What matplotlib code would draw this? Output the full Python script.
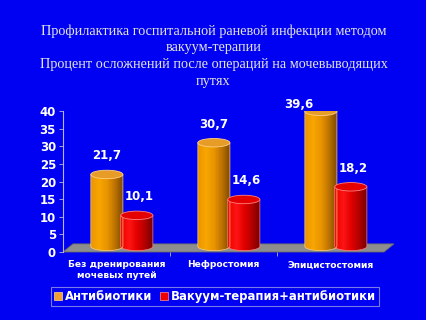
import numpy as np
import matplotlib.pyplot as plt
from matplotlib.patches import Polygon, Ellipse, Patch
from matplotlib.colors import LinearSegmentedColormap

# Data
categories = ["Без дренирования\nмочевых путей", "Нефростомия", "Эпицистостомия"]
antibiotics = [21.7, 30.7, 39.6]
vacuum = [10.1, 14.6, 18.2]
series_names = ["Антибиотики", "Вакуум-терапия+антибиотики"]
title_lines = [
    "Профилактика госпитальной раневой инфекции методом",
    "вакуум-терапии",
    "Процент осложнений после операций на мочевыводящих",
    "путях",
]
y_ticks = [0, 5, 10, 15, 20, 25, 30, 35, 40]

bg = "#0000f2"
orange_cmap = LinearSegmentedColormap.from_list(
    "org", ["#ec9600", "#f8a600", "#e89400", "#b87000", "#7a4600"])
red_cmap = LinearSegmentedColormap.from_list(
    "rd", ["#ec0000", "#ff1414", "#e20000", "#ae0000", "#700000"])

fig = plt.figure(figsize=(4.27, 3.2), dpi=100, facecolor=bg)
ax = fig.add_axes([0.1475, 0.2125, 0.7518, 0.4406])
ax.set_facecolor("none")

# title, serif lines
for i, line in enumerate(title_lines):
    fig.text(0.5, 1 - (31 + i * 16.8) / 320, line, ha="center", va="center",
             color="#e4e4e4", fontsize=10.3, family="Liberation Serif")

# floor of the 3D chart
dx = 0.093
floor = Polygon([(-0.5, 0), (2.5, 0), (2.5 + dx, 2.3), (-0.5 + dx, 2.3)],
                closed=True, facecolor="#8e8e8e", edgecolor="#6a6a6a",
                lw=0.6, clip_on=False, zorder=1)
ax.add_patch(floor)

w = 0.30
eh = 2.4
base = 1.6


def cylinder(cx, value, cmap, top_color, edge_color):
    x0, x1 = cx - w / 2, cx + w / 2
    yt = value + 0.3
    t = np.linspace(0, np.pi, 40)
    bottom = np.column_stack([cx + w / 2 * np.cos(t), base - eh / 2 * np.sin(t)])
    # body outline: left-top, right-top, down the right side, bottom arc to left
    verts = [(x0, yt), (x1, yt)] + list(bottom) + [(x0, yt)]
    body = Polygon(verts, closed=True, facecolor="none", edgecolor=edge_color,
                   lw=0.5, zorder=3)
    ax.add_patch(body)
    grad = np.linspace(0, 1, 64).reshape(1, -1)
    im = ax.imshow(grad, cmap=cmap, aspect="auto", zorder=2,
                   extent=[x0, x1, base - eh / 2, yt], origin="lower")
    im.set_clip_path(body)
    top = Ellipse((cx, yt), w, eh, facecolor=top_color, edgecolor=edge_color,
                  lw=0.6, zorder=4)
    ax.add_patch(top)


x = np.arange(len(categories))
for i in range(len(categories)):
    cylinder(x[i] - 0.09, antibiotics[i], orange_cmap, "#e89c28", "#ffd080")
    cylinder(x[i] + 0.19, vacuum[i], red_cmap, "#e40000", "#ff8080")

# value labels
for i in range(len(categories)):
    ya = antibiotics[i] + 5.6
    xa = x[i] - 0.09
    if ya > 42:
        ya = 41.8
        xa -= 0.21
    ax.text(xa, ya, f"{antibiotics[i]:.1f}".replace(".", ","), ha="center",
            va="center", color="white", fontsize=8.5, fontweight="bold")
    ax.text(x[i] + 0.21, vacuum[i] + 5.6, f"{vacuum[i]:.1f}".replace(".", ","),
            ha="center", va="center", color="white", fontsize=8.5,
            fontweight="bold")

ax.set_xlim(-0.5, 2.5)
ax.set_ylim(0, 40)

for s in ["top", "right", "bottom"]:
    ax.spines[s].set_visible(False)
ax.spines["left"].set_color("#b4b4e0")
ax.spines["left"].set_linewidth(0.8)

ax.set_yticks(y_ticks)
ax.set_yticklabels([str(v) for v in y_ticks], color="white", fontsize=8.5,
                   fontweight="bold")
ax.tick_params(axis="y", colors="#b4b4e0", length=3, width=0.6, pad=2,
               labelcolor="white")

ax.set_xticks(x)
ax.set_xticklabels(categories, color="white", fontsize=6.6, fontweight="bold")
ax.set_xticks([0.5, 1.5], minor=True)
ax.tick_params(axis="x", which="major", length=0, pad=6)
ax.tick_params(axis="x", which="minor", length=3, width=0.6, colors="#b4b4e0",
               direction="out")

handles = [Patch(facecolor="#f0a030", edgecolor="#ffd890", lw=0.5),
           Patch(facecolor="#ee0000", edgecolor="#ff9090", lw=0.5)]
leg = fig.legend(handles, series_names, loc="center", ncol=2,
                 bbox_to_anchor=(0.5035, 0.073), frameon=True, fancybox=False,
                 handlelength=0.7, handleheight=0.7, handletextpad=0.3,
                 columnspacing=0.6, borderpad=0.25,
                 prop={"size": 8.4, "weight": "bold"})
leg.get_frame().set_facecolor("none")
leg.get_frame().set_edgecolor("#9a9ae8")
leg.get_frame().set_linewidth(0.8)
for t in leg.get_texts():
    t.set_color("white")

fig.savefig("out.png", dpi=100, facecolor=bg)
